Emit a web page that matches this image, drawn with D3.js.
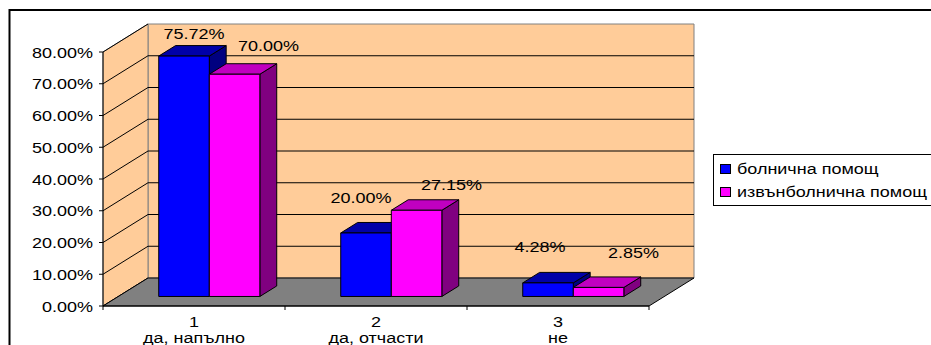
<!DOCTYPE html>
<html>
<head>
<meta charset="utf-8">
<script src="https://cdn.jsdelivr.net/npm/d3@7"></script>
<style>
  html, body { margin: 0; padding: 0; background: #fff; }
  svg { display: block; }
  text { font-family: "Liberation Sans", Arial, sans-serif; fill: #000; }
</style>
</head>
<body>
<svg id="chart" width="931" height="345"></svg>
<script>
// Survey answers by care type
const categories = ["1", "2", "3"];
const categoryNames = ["да, напълно", "да, отчасти", "не"];
const seriesNames = ["болнична помощ", "извънболнична помощ"];
const hospital = [75.72, 20.00, 4.28];
const outpatient = [70.00, 27.15, 2.85];
const yTicks = [0, 10, 20, 30, 40, 50, 60, 70, 80];

const series = [
  { name: seriesNames[0], values: hospital, front: "#0000ff", top: "#0000a8", side: "#000080" },
  { name: seriesNames[1], values: outpatient, front: "#ff00ff", top: "#c000c0", side: "#800080" }
];

// Label offsets (dx from front-face centre, dy from rear top edge), per series / category
const labelNudge = [
  [[10, -7], [-5, -19], [-8, -20]],
  [[34, -13], [35, -10], [35, -19]]
];

const svg = d3.select("#chart");
const fmt = v => v.toFixed(2) + "%";
const SX = 1.2; // horizontal text stretch
const FS = 15;

// Outer frame
svg.append("rect").attr("x", 9.5).attr("y", 10).attr("width", 960).attr("height", 400)
  .attr("fill", "none").attr("stroke", "#000").attr("stroke-width", 2);

// Geometry of the 3D plot box
const x0 = 103, x1 = 649;
const depthX = 45, depthY = -28;
const y = d3.scaleLinear().domain([0, 80]).range([306, 52]);
const xCat = d3.scaleBand().domain(categories).range([x0, x1]).padding(0);
const xSer = d3.scaleBand().domain([0, 1]).range([0, xCat.bandwidth()]).paddingInner(0).paddingOuter(0.8);
const barFront = 0.34, barBack = 0.715;
const P = (x, v, d) => [x + depthX * d, y(v) + depthY * d];

const peach = "#ffcc99";

// Back wall
const bw = [P(x0, 80, 1), P(x1, 80, 1), P(x1, 0, 1), P(x0, 0, 1)];
svg.append("polygon").attr("points", bw.join(" ")).attr("fill", peach)
  .attr("stroke", "#808080").attr("stroke-width", 1);
// Left wall
const lw = [P(x0, 80, 0), P(x0, 80, 1), P(x0, 0, 1), P(x0, 0, 0)];
svg.append("polygon").attr("points", lw.join(" ")).attr("fill", peach)
  .attr("stroke", "#808080").attr("stroke-width", 1);

// Gridlines on walls
yTicks.forEach(v => {
  if (v > 0 && v < 80) {
    const a = P(x0, v, 1), b = P(x1, v, 1);
    svg.append("line").attr("x1", a[0]).attr("y1", a[1]).attr("x2", b[0]).attr("y2", b[1])
      .attr("stroke", "#000").attr("stroke-width", 1);
  }
  const f = P(x0, v, 0), g = P(x0, v, 1);
  svg.append("line").attr("x1", f[0]).attr("y1", f[1]).attr("x2", g[0]).attr("y2", g[1])
    .attr("stroke", "#000").attr("stroke-width", 1);
});

// Floor
const fl = [P(x0, 0, 0), P(x1, 0, 0), P(x1, 0, 1), P(x0, 0, 1)];
svg.append("polygon").attr("points", fl.join(" ")).attr("fill", "#808080")
  .attr("stroke", "#000").attr("stroke-width", 1);

// Bars
const bars = svg.append("g");
const labels = [];
categories.forEach((c, ci) => {
  series.forEach((s, si) => {
    const v = s.values[ci];
    const xl = xCat(c) + xSer(si), xr = xl + xSer.bandwidth();
    const fTL = P(xl, v, barFront), fTR = P(xr, v, barFront);
    const fBL = P(xl, 0, barFront), fBR = P(xr, 0, barFront);
    const bTL = P(xl, v, barBack), bTR = P(xr, v, barBack), bBR = P(xr, 0, barBack);
    bars.append("polygon").attr("points", [fTR, bTR, bBR, fBR].join(" "))
      .attr("fill", s.side).attr("stroke", "#000").attr("stroke-width", 1).attr("stroke-linejoin", "round");
    bars.append("polygon").attr("points", [fTL, bTL, bTR, fTR].join(" "))
      .attr("fill", s.top).attr("stroke", "#000").attr("stroke-width", 1).attr("stroke-linejoin", "round");
    bars.append("polygon").attr("points", [fTL, fTR, fBR, fBL].join(" "))
      .attr("fill", s.front).attr("stroke", "#000").attr("stroke-width", 1);
    const n = labelNudge[si][ci];
    labels.push({ x: (fTL[0] + fTR[0]) / 2 + n[0], y: bTL[1] + n[1], t: fmt(v) });
  });
});

// Value axis
svg.append("line").attr("x1", x0).attr("y1", y(80)).attr("x2", x0).attr("y2", y(0))
  .attr("stroke", "#000").attr("stroke-width", 1);
yTicks.forEach(v => {
  svg.append("line").attr("x1", x0 - 4).attr("x2", x0).attr("y1", y(v)).attr("y2", y(v))
    .attr("stroke", "#000");
  svg.append("text").attr("text-anchor", "end").attr("font-size", FS)
    .attr("transform", `translate(93,${y(v) + 5.5}) scale(${SX},1)`).text(fmt(v));
});

// Category axis
svg.append("line").attr("x1", x0).attr("y1", y(0)).attr("x2", x1).attr("y2", y(0))
  .attr("stroke", "#000");
[x0, ...categories.map(c => xCat(c) + xCat.bandwidth())].forEach(xt => {
  svg.append("line").attr("x1", xt).attr("x2", xt).attr("y1", y(0)).attr("y2", y(0) + 4)
    .attr("stroke", "#000");
});
categories.forEach((c, i) => {
  const cx = xCat(c) + xCat.bandwidth() / 2;
  svg.append("text").attr("text-anchor", "middle").attr("font-size", FS)
    .attr("transform", `translate(${cx},327) scale(${SX},1)`).text(c);
  svg.append("text").attr("text-anchor", "middle").attr("font-size", FS)
    .attr("transform", `translate(${cx},343) scale(${SX},1)`).text(categoryNames[i]);
});

// Data labels
labels.forEach(l => {
  svg.append("text").attr("text-anchor", "middle").attr("font-size", FS)
    .attr("transform", `translate(${l.x},${l.y}) scale(${SX},1)`).text(l.t);
});

// Legend
const lg = svg.append("g");
lg.append("rect").attr("x", 713.5).attr("y", 154.5).attr("width", 300).attr("height", 51)
  .attr("fill", "#fff").attr("stroke", "#000");
series.forEach((s, i) => {
  const by = 174 + i * 23;
  lg.append("rect").attr("x", 720.5).attr("y", by - 9.5).attr("width", 10).attr("height", 9)
    .attr("fill", s.front).attr("stroke", "#000");
  lg.append("text").attr("font-size", FS)
    .attr("transform", `translate(737,${by}) scale(${SX},1)`).text(s.name);
});
</script>
</body>
</html>
